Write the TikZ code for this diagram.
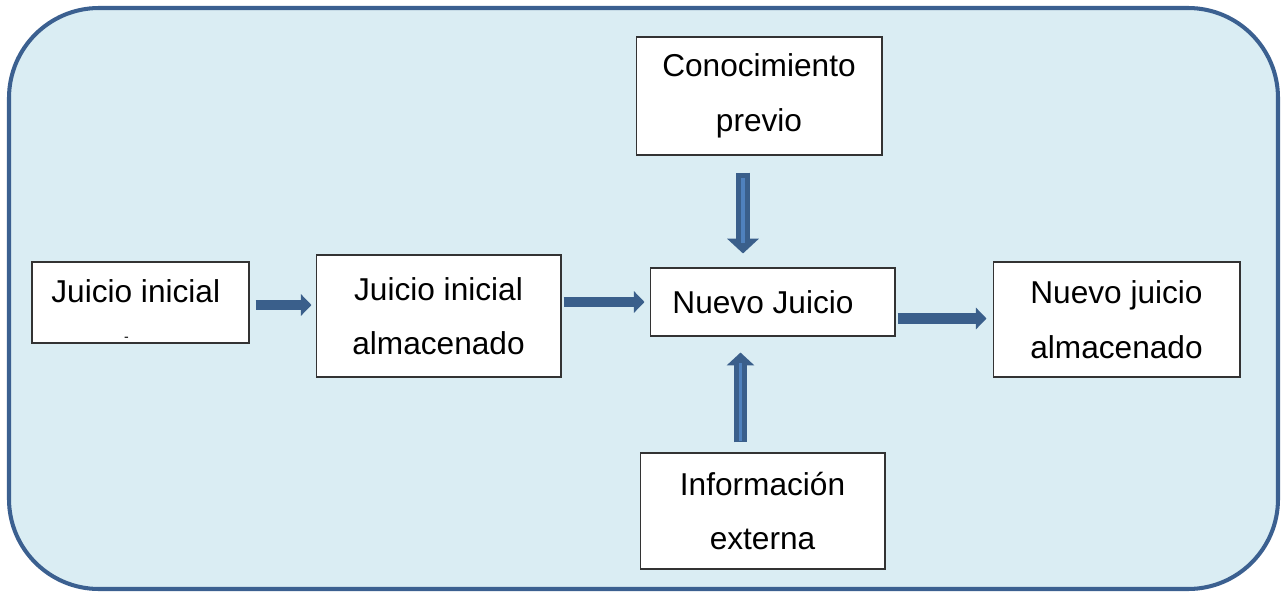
\documentclass[tikz,border=0pt]{standalone}
\usepackage{fontspec}
\setmainfont{Liberation Sans}
\usepackage{tikz}
\usetikzlibrary{arrows.meta}
\usetikzlibrary{calc}
\usetikzlibrary{positioning}
\definecolor{marco}{HTML}{3B6090}
\definecolor{fondo}{HTML}{DAEDF3}
\definecolor{flechaazul}{HTML}{3A5F8B}
\definecolor{flechaclara}{HTML}{4F81BD}
\tikzset{caja/.style={draw=black!80, line width=0.6pt, fill=white, align=center,
                      font=\fontsize{18}{31}\selectfont, inner sep=0pt},
         flechah/.style={draw=flechaazul, line width=6.2pt,
                      -{Triangle[width=12pt,length=6pt]}},
         flechav/.style={draw=flechaazul, line width=#1,
                      -{Triangle[width=2.2*#1,length=1.05*#1]}},
         lineaclara/.style={draw=flechaclara, line width=1.8pt}}

\begin{document}
\begin{tikzpicture}[x=0.02cm, y=-0.02cm]

					\useasboundingbox (0,0) rectangle (1285,592);
					\draw[marco, line width=2.3pt, fill=fondo, rounded corners=1.8cm]
						(9,8) rectangle (1278,589);

					\node[caja, minimum width=4.34cm, minimum height=1.62cm] (ji) at (140.5,302.5)
						{\rule{0pt}{22pt}Juicio inicial\hspace*{0.3em}\\[-9pt]{\fontsize{8}{8}\selectfont -\hspace*{16pt}}};
					\node[caja, minimum width=4.9cm, minimum height=2.44cm] (jia) at (438.5,316)
						{Juicio inicial\\almacenado};
					\node[caja, minimum width=4.92cm, minimum height=2.36cm] (conoc) at (759,96)
						{Conocimiento\\previo};
					\node[caja, minimum width=4.9cm, minimum height=1.36cm] (nj) at (772.5,302)
						{Nuevo Juicio\hspace*{0.6em}};
					\node[caja, minimum width=4.94cm, minimum height=2.3cm] (nja) at (1116.5,319.5)
						{Nuevo juicio\\almacenado};
					\node[caja, minimum width=4.9cm, minimum height=2.32cm] (info) at (762.5,511)
						{Información\\externa};

					\draw[flechah] ($(ji.east)+(6,2.5)$) -- ($(ji.east -| jia.west)+(-4,2.5)$);
					\draw[flechah] ($(nj.west -| jia.east)+(2,0)$) -- ($(nj.west)+(-5,0)$);
					\draw[flechah] ($(nja.west -| nj.east)+(2,-1)$) -- ($(nja.west)+(-6,-1)$);

					\draw[flechav=8pt] ($(conoc.south)+(-16,17)$) -- ($(nj.north -| conoc.south)+(-16,-14)$);
					\draw[lineaclara, shorten <=3.4pt, shorten >=6.2pt]
						($(conoc.south)+(-16,17)$) -- ($(nj.north -| conoc.south)+(-16,-14)$);

					\draw[flechav=7pt] ($(info.north)+(-22,-10)$) -- ($(nj.south -| info.north)+(-22,16)$);
					\draw[lineaclara, shorten <=1pt, shorten >=5.7pt]
						($(info.north)+(-22,-10)$) -- ($(nj.south -| info.north)+(-22,16)$);

\end{tikzpicture}
\end{document}
